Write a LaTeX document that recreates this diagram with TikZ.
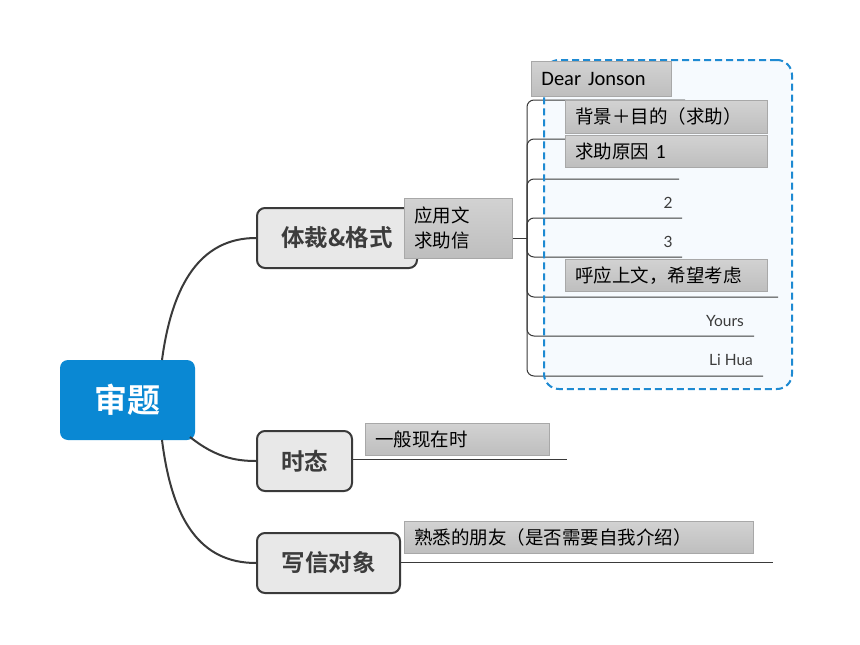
\documentclass[tikz,border=0pt]{standalone}
\usepackage{fontspec}
\setmainfont{Carlito}
\newfontfamily\cjk{Noto Sans CJK SC}
\newfontfamily\cjkb{Noto Sans CJK SC Bold}
\newfontfamily\latofont{Lato}
\definecolor{rootblue}{HTML}{0A88D3}
\definecolor{linegray}{HTML}{3A3A3A}
\definecolor{branchfill}{HTML}{E8E8E8}
\definecolor{boxtop}{HTML}{D2D2D2}
\definecolor{boxbot}{HTML}{BEBEBE}
\definecolor{boxedge}{HTML}{A8A8A8}
\definecolor{dashblue}{HTML}{1E8AD2}
\definecolor{panel}{HTML}{F6FAFE}
\definecolor{txtgray}{HTML}{3C3C3C}
\begin{document}
\begin{tikzpicture}[x=1pt,y=-1pt,
  rootbox/.style={rectangle, rounded corners=8pt, fill=rootblue, text=white, font=\cjkb\fontsize{33}{36}\selectfont, inner sep=0pt},
  branchbox/.style={rectangle, rounded corners=8pt, fill=branchfill, draw=linegray, line width=2pt, font=\cjkb\fontsize{23.5}{26}\selectfont, text=txtgray, inner sep=0pt},
  graybox/.style={rectangle, top color=boxtop, bottom color=boxbot, draw=boxedge, line width=0.8pt, anchor=north west, inner xsep=10pt, inner ysep=0pt, align=left, text=black},
  cjktext/.style={font=\cjk\fontsize{18.5}{26}\selectfont},
  conn/.style={draw=linegray, line width=2pt},
  uline/.style={draw=linegray, line width=1pt, rounded corners=7pt},
  smalltxt/.style={font=\latofont\fontsize{15.5}{17}\selectfont, text=txtgray, inner sep=0pt}
]
\useasboundingbox[fill=white] (0,0) rectangle (860,645);

% root and branches
\node[rootbox, minimum width=135pt, minimum height=80pt] (root) at (127.5,400) {审题};
\node[branchbox, minimum width=160pt, minimum height=60pt] (fmt) at (337,238) {体裁\&格式};
\node[branchbox, minimum width=95pt, minimum height=60pt] (tense) at (304.5,461) {时态};
\node[branchbox, minimum width=143pt, minimum height=60pt] (reader) at (328.5,563) {写信对象};

\draw[conn] (162,360) .. controls (172,285) and (200,238) .. (fmt.west);
\draw[conn] (190,437) .. controls (215,457) and (235,461) .. (tense.west);
\draw[conn] (162,440) .. controls (172,520) and (200,563) .. (reader.west);

% dashed panel fill
\node[rectangle, rounded corners=15pt, fill=panel, minimum width=248pt, minimum height=329pt, anchor=north west, inner sep=0pt] (panel) at (543,59) {};

% bracket
\coordinate (br) at (527,238);
\draw[conn, line width=1pt] (fmt.east) -- (br);
\coordinate (e1) at (685,100);
\coordinate (e2) at (685,139);
\coordinate (e3) at (679,179);
\coordinate (e4) at (682,218);
\coordinate (e5) at (682,257);
\coordinate (e6) at (778,297);
\coordinate (e7) at (754,336);
\coordinate (e8) at (763,376);
\foreach \e in {e1,e2,e3,e4,e5,e6,e7,e8}{
  \draw[uline] (br) |- (\e);
}
% underlines of other branches
\coordinate (t1) at (567,459);
\draw[draw=linegray, line width=1pt] (tense.east |- t1) -- (t1);
\coordinate (r1) at (773,562);
\draw[draw=linegray, line width=1pt] (reader.east |- r1) -- (r1);

% dashed border
\node[rectangle, rounded corners=15pt, draw=dashblue, line width=2pt, dash pattern=on 7pt off 4pt, minimum width=248pt, minimum height=329pt, anchor=north west, inner sep=0pt] (panelborder) at (543,59) {};

% visible small texts
\node[smalltxt] (n2) at (668,203) {2};
\node[smalltxt] (n3) at (668,242) {3};
\node[smalltxt] (yours) at (725,321) {Yours};
\node[smalltxt] (lihua) at (731,360) {Li Hua};

% gray overlay boxes
\node[graybox, minimum width=140pt, minimum height=35pt, text width=120pt, font=\fontsize{20.5}{23}\selectfont] (dear) at (531,61) {Dear Jonson};
\node[graybox, cjktext, minimum width=202pt, minimum height=33pt, text width=182pt] (bg) at (565,100) {背景＋目的（求助）};
\node[graybox, cjktext, minimum width=202pt, minimum height=32pt, text width=182pt] (reason) at (565,135) {求助原因\ {\fontspec{Carlito}\fontsize{20}{22}\selectfont 1}};
\node[graybox, cjktext, minimum width=202pt, minimum height=32pt, text width=182pt] (echo) at (565,259) {呼应上文，希望考虑};
\node[graybox, minimum width=108pt, minimum height=60pt, text width=88pt, font=\cjk\fontsize{18.5}{25}\selectfont] (app) at (404,198) {应用文\\求助信};
\node[graybox, cjktext, minimum width=184pt, minimum height=32pt, text width=164pt] (present) at (365,423) {一般现在时};
\node[graybox, cjktext, minimum width=349pt, minimum height=32pt, text width=329pt] (friend) at (404,521) {熟悉的朋友（是否需要自我介绍）};
\end{tikzpicture}
\end{document}
